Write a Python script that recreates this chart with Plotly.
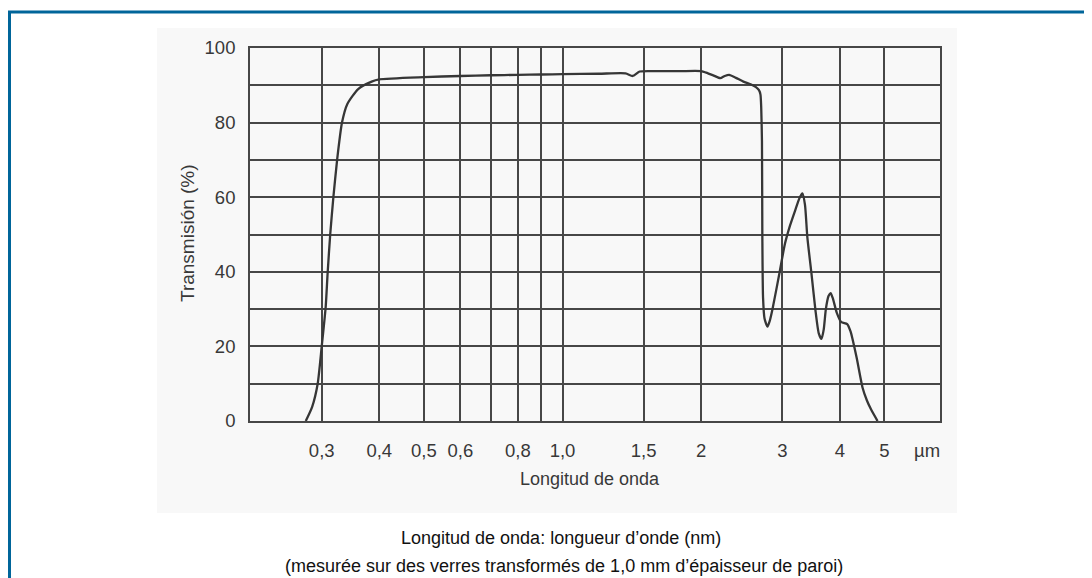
import plotly.graph_objects as go
import math

# ---- data ----
wavelength_um = [0.277, 0.286, 0.294, 0.300, 0.306, 0.309, 0.313, 0.318, 0.324, 0.332,
                 0.341, 0.360, 0.385, 0.40, 0.50, 0.60, 0.70, 0.80, 0.90, 1.0,
                 1.2, 1.37, 1.42, 1.47, 1.6, 1.8, 2.0, 2.05, 2.13, 2.2,
                 2.25, 2.3, 2.38, 2.47, 2.56, 2.63, 2.67, 2.69, 2.70, 2.71,
                 2.715, 2.725, 2.745, 2.786, 2.82, 2.857, 2.958, 3.04, 3.12, 3.2,
                 3.27, 3.317, 3.36, 3.40, 3.47, 3.54, 3.60, 3.65, 3.69, 3.73,
                 3.78, 3.82, 3.86, 3.94, 4.03, 4.15, 4.22, 4.35, 4.48, 4.58,
                 4.68, 4.83]
transmission_pct = [0, 3.8, 10, 20, 30.6, 39.7, 50, 60, 70, 80,
                    85, 89, 91, 91.6, 92.2, 92.5, 92.7, 92.8, 92.9, 93.0,
                    93.1, 93.2, 92.5, 93.7, 93.8, 93.8, 93.8, 93.4, 92.6, 91.9,
                    92.5, 92.8, 92.0, 91.0, 90.3, 89.5, 88.7, 87.5, 84, 75,
                    50, 33, 27.5, 25.3, 27, 30, 39.7, 47.5, 52.5, 56.5,
                    59.8, 61, 58, 49.3, 39.7, 29.8, 23.5, 22, 24.5, 30,
                    33.5, 34.3, 33, 29, 26.5, 26, 24, 17, 9, 5.5,
                    3, 0]

tick_vals = [0.3, 0.4, 0.5, 0.6, 0.7, 0.8, 0.9, 1.0, 1.5, 2, 3, 4, 5]
tick_text = ["0,3", "0,4", "0,5", "0,6", "", "0,8", "", "1,0", "1,5", "2", "3", "4", "5"]
y_ticks = [0, 10, 20, 30, 40, 50, 60, 70, 80, 90, 100]
y_text = ["0", "", "20", "", "40", "", "60", "", "80", "", "100"]

# ---- layout geometry (screen pixels; the page body adds an 8px offset) ----
OFF = 8
W, H = 1092 - OFF, 578 - OFF
L, R, T, B = 250, 940, 48, 421
pw, ph = R - L, B - T


def px(x):
    return (x - L) / pw


def py(y):
    return (B - y) / ph


sans = "Liberation Sans, Arial, Helvetica, sans-serif"
grid_col = "#474747"
txt_col = "#383838"

fig = go.Figure()
fig.add_trace(go.Scatter(
    x=wavelength_um, y=transmission_pct, mode="lines",
    line=dict(color="#363636", width=2.3, shape="spline", smoothing=0.6),
    hoverinfo="x+y", showlegend=False))

fig.update_layout(
    width=W, height=H,
    margin=dict(l=L - OFF, r=W - (R - OFF), t=T - OFF, b=H - (B - OFF), pad=0),
    paper_bgcolor="white", plot_bgcolor="#fbfbfb",
    xaxis=dict(type="log", range=[math.log10(0.2096), math.log10(6.6)],
               tickvals=tick_vals, ticktext=tick_text, ticks="",
               showgrid=True, gridcolor=grid_col, gridwidth=1.7,
               showline=True, linecolor=grid_col, linewidth=1.7, mirror=True,
               zeroline=False, ticklabelstandoff=12,
               tickfont=dict(family=sans, size=18.5, color=txt_col)),
    yaxis=dict(range=[0, 100], tickvals=y_ticks, ticktext=y_text, ticks="",
               showgrid=True, gridcolor=grid_col, gridwidth=1.7,
               showline=True, linecolor=grid_col, linewidth=1.7, mirror=True,
               zeroline=False, ticklabelstandoff=9,
               tickfont=dict(family=sans, size=18.5, color=txt_col)),
    shapes=[
        # faint scanned-page background
        dict(type="rect", xref="paper", yref="paper", layer="below",
             x0=px(157), x1=px(957), y0=py(513), y1=py(28),
             fillcolor="#f8f8f8", line=dict(width=0)),
        # blue frame (left and top)
        dict(type="line", xref="paper", yref="paper",
             x0=px(9.5), x1=px(9.5), y0=py(600), y1=py(12),
             line=dict(color="#00659a", width=3)),
        dict(type="line", xref="paper", yref="paper",
             x0=px(8), x1=px(1100), y0=py(12), y1=py(12),
             line=dict(color="#00659a", width=3)),
    ],
    annotations=[
        dict(text="µm", xref="paper", yref="paper", x=px(927), y=py(450),
             xanchor="center", yanchor="middle", showarrow=False,
             font=dict(family=sans, size=18.5, color=txt_col)),
        dict(text="Longitud de onda", xref="paper", yref="paper", x=px(590), y=py(479),
             xanchor="center", yanchor="middle", showarrow=False,
             font=dict(family=sans, size=18, color=txt_col)),
        dict(text="Transmisión (%)", xref="paper", yref="paper", x=px(187), y=py(233),
             xanchor="center", yanchor="middle", textangle=-90, showarrow=False,
             font=dict(family=sans, size=19, color=txt_col)),
        dict(text="Longitud de onda: longueur d’onde (nm)", xref="paper", yref="paper",
             x=px(561), y=py(538), xanchor="center", yanchor="middle", showarrow=False,
             font=dict(family=sans, size=18, color="#111111")),
        dict(text="(mesurée sur des verres transformés de 1,0 mm d’épaisseur de paroi)",
             xref="paper", yref="paper", x=px(564), y=py(566),
             xanchor="center", yanchor="middle", showarrow=False,
             font=dict(family=sans, size=18, color="#111111")),
    ],
)

fig.write_html("out.html")
